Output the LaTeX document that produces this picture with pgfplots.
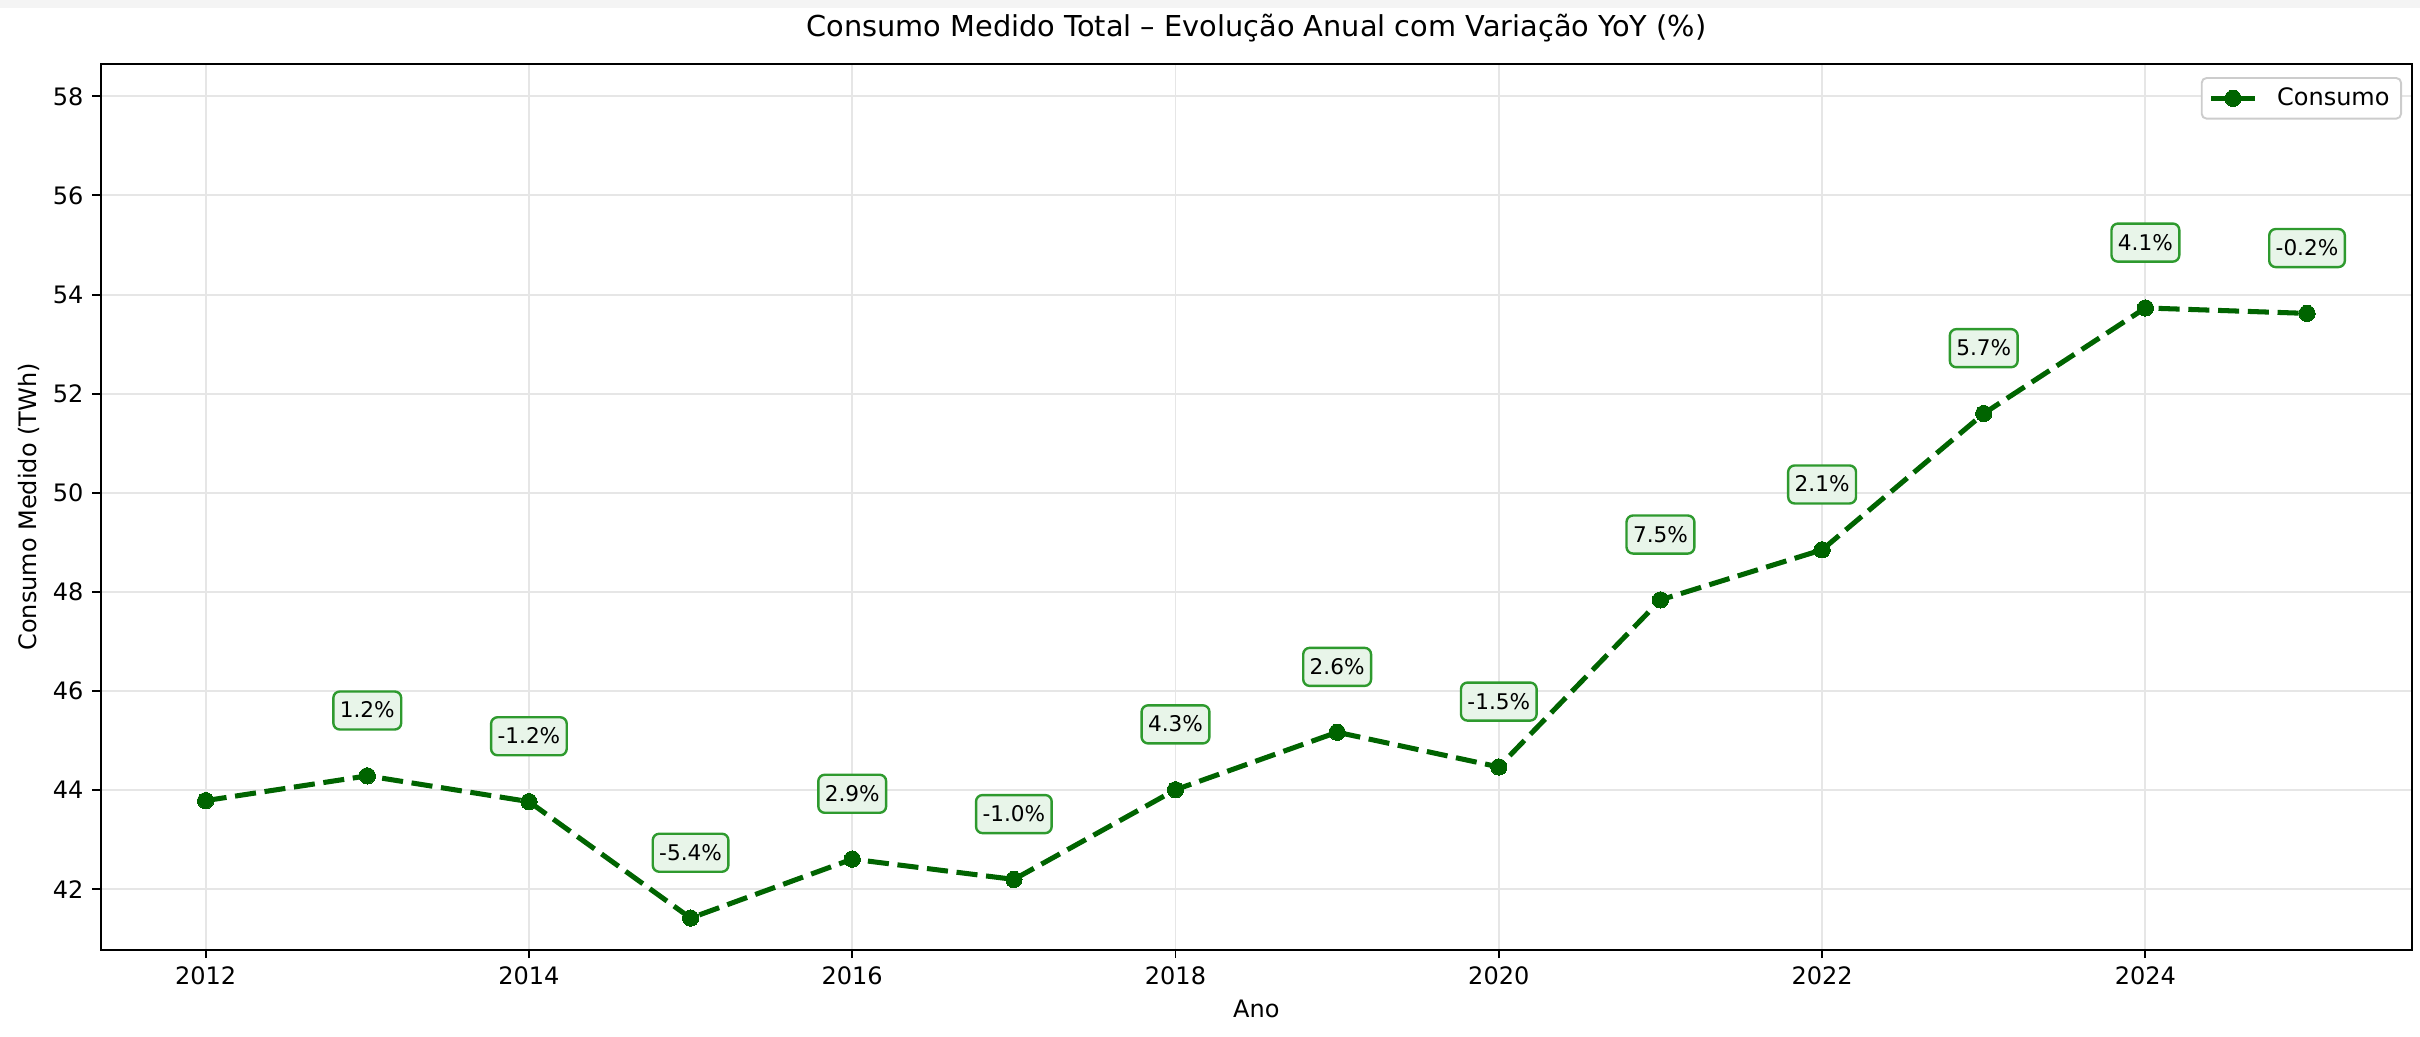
\documentclass[border=0pt]{standalone}
\usepackage{fontspec}
\setmainfont{DejaVu Sans}
\usepackage{pgfplots}
\usepackage{pgfplotstable}
\pgfplotsset{compat=1.18}
\definecolor{linegreen}{HTML}{006400}
\definecolor{boxedge}{HTML}{2E9A2E}
\definecolor{boxfill}{HTML}{E8F5E9}
\definecolor{gridgray}{HTML}{E6E6E6}
\definecolor{legendedge}{HTML}{CCCCCC}
\definecolor{strip}{HTML}{F4F4F4}

% consumo medido (TWh)
\pgfplotstableread{
ano consumo
2012 43.79
2013 44.29
2014 43.77
2015 41.42
2016 42.61
2017 42.20
2018 44.01
2019 45.17
2020 44.47
2021 47.84
2022 48.85
2023 51.60
2024 53.73
2025 53.62
}\consumo

% variacao YoY (%)
\pgfplotstableread{
ano consumo yoy
2013 44.29 1.2
2014 43.77 -1.2
2015 41.42 -5.4
2016 42.61 2.9
2017 42.20 -1.0
2018 44.01 4.3
2019 45.17 2.6
2020 44.47 -1.5
2021 47.84 7.5
2022 48.85 2.1
2023 51.60 5.7
2024 53.73 4.1
2025 53.62 -0.2
}\yoy

\begin{document}
\begin{tikzpicture}
\begin{axis}[
    name=ax,
    width=963pt, height=369pt, scale only axis,
    xmin=2011.35, xmax=2025.65,
    ymin=40.78, ymax=58.65,
    xtick={2012,2014,...,2024},
    ytick={42,44,...,58},
    /pgf/number format/assume math mode=true,
    xticklabel style={/pgf/number format/1000 sep={}},
    ticklabel style={font=\fontsize{10}{12}\selectfont, text=black},
    tick align=outside, major tick length=3.5pt,
    tick style={black, line width=0.8pt},
    xtick pos=bottom, ytick pos=left,
    xticklabel style={anchor=north, inner sep=0pt, yshift=-3.5pt},
    yticklabel style={anchor=east, inner sep=0pt, xshift=-3.5pt},
    axis line style={black, line width=0.8pt},
    grid=major, major grid style={gridgray, line width=0.8pt},
    title={Consumo Medido Total – Evolução Anual com Variação YoY (\%)},
    title style={at={(axis description cs:0.5,1)}, anchor=base, yshift=5.6pt,
        inner sep=0pt, font=\fontsize{12}{14}\selectfont},
    xlabel={Ano},
    xlabel style={at={(axis description cs:0.5,0)}, anchor=base, yshift=-28.3pt,
        inner sep=0pt, font=\fontsize{10}{12}\selectfont},
    ylabel={Consumo Medido (TWh)},
    ylabel style={at={(axis description cs:-0.02793,0.5)}, anchor=base,
        inner sep=0pt, font=\fontsize{10}{12}\selectfont},
    legend style={at={(axis description cs:1,1)}, anchor=north east,
        xshift=-4.2pt, yshift=-5.4pt, draw=legendedge, line width=0.8pt,
        rounded corners=2pt, fill=white, inner xsep=3pt, inner ysep=2.5pt,
        font=\fontsize{10}{12}\selectfont,
        nodes={inner xsep=1.8pt, inner ysep=1.5pt},
        /tikz/every odd column/.append style={column sep=6.5pt}},
    legend cell align=left,
    legend image code/.code={
        \draw[mark repeat=2, mark phase=2, #1, solid]
            plot coordinates {(0pt,0pt) (9pt,0pt) (18pt,0pt)};},
]
\addplot[linegreen, line width=2.1pt, dash pattern=on 8.8pt off 3.6pt,
    mark=*, mark size=3.4pt, mark options={solid, fill=linegreen, draw=linegreen, line width=0pt}]
    table[x=ano, y=consumo] {\consumo};
\addlegendentry{Consumo}

\addplot[draw=none, mark=none, forget plot,
    point meta=explicit,
    nodes near coords={\pgfmathprintnumber[fixed, precision=1, fixed zerofill]{\pgfplotspointmeta}\%},
    nodes near coords style={anchor=south, yshift=18.8pt,
        draw=boxedge, line width=1pt, fill=boxfill, rounded corners=2.7pt,
        inner xsep=2.7pt, inner ysep=2.7pt, text height=8.35pt, text depth=2.1pt,
        text=black, font=\fontsize{9}{11}\selectfont}]
    table[x=ano, y=consumo, meta=yoy] {\yoy};
\end{axis}
\fill[strip] ([xshift=-41.9pt, yshift=23.5pt]ax.north west)
    rectangle ([xshift=3.3pt, yshift=26.7pt]ax.north east);
\pgfresetboundingbox
\path[use as bounding box] ([xshift=-41.9pt, yshift=-36.25pt]ax.south west)
    rectangle ([xshift=3.3pt, yshift=26.7pt]ax.north east);
\end{tikzpicture}
\end{document}
